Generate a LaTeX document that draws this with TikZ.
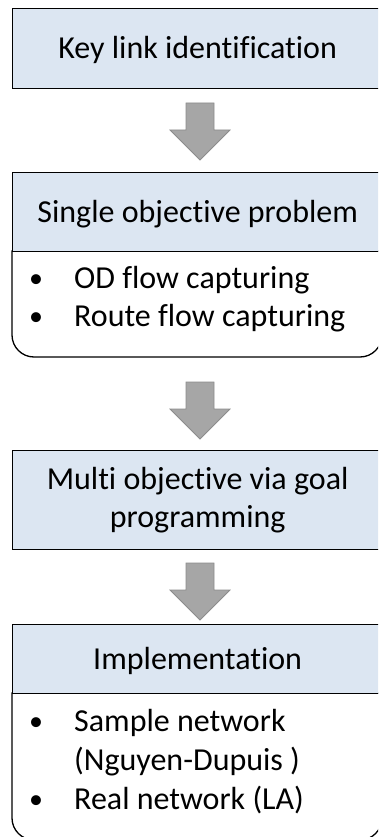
\documentclass[tikz,border=0pt]{standalone}
\usepackage{fontspec}
\setmainfont{Carlito}[Ligatures=NoCommon]

\definecolor{headfill}{HTML}{DCE6F2}
\definecolor{arrowfill}{HTML}{A6A6A6}
\definecolor{arrowline}{HTML}{8C8C8C}

% downward block arrow whose shaft top centre is at the given point
\newcommand{\blockarrowat}[2]{%
  \draw[blockarrow] ($(#1)+(-14,0)$) -- ($(#1)+(14,0)$) -- ($(#1)+(14,27)$)
    -- ($(#1)+(30,27)$) -- ($(#1)+(0,57)$) coordinate (#2) -- ($(#1)+(-30,27)$)
    -- ($(#1)+(-14,27)$) -- cycle;}

\usetikzlibrary{calc}

\begin{document}
\begin{tikzpicture}[x=1pt,y=-1pt,
  every node/.style={font=\fontsize{32}{38.5}\selectfont, inner sep=0pt},
  headbox/.style={draw=black, line width=1.3pt, fill=headfill,
    anchor=north west, minimum width=370pt},
  oneline/.style={text height=20.6pt, text depth=0pt},
  bodybox/.style={draw=black, line width=1.3pt, fill=white},
  blockarrow/.style={draw=arrowline, line width=0.8pt, fill=arrowfill, line join=miter},
  bullet/.style={anchor=base, font=\fontsize{28}{34}\selectfont},
  itemtext/.style={anchor=base west},
]
\path[use as bounding box] (0,0) rectangle (378,837);
\begin{scope}
\clip (0,0) rectangle (378,837);

% step 1
\node[headbox, oneline, minimum height=80pt] (key) at (12,8) {Key link identification};

% step 2: header with bullet body
\draw[bodybox] (12,251) -- (12,335) arc[start angle=180, end angle=90, radius=22]
  -- (360,357) arc[start angle=90, end angle=0, radius=22] -- (382,251) -- cycle;
\node[headbox, oneline, minimum height=79pt] (single) at (12,172) {Single objective problem};
\node[bullet] (b1) at (36,287) {\textbullet};
\node[itemtext] (od) at (74,288) {OD flow capturing};
\node[bullet] (b2) at (36,325) {\textbullet};
\node[itemtext] (route) at (74,326) {Route flow capturing};

% step 3
\node[headbox, minimum height=99pt, align=center] (multi) at (12,450)
  {Multi objective via goal\\programming};

% step 4: header with bullet body
\draw[bodybox] (12,693) -- (12,818) arc[start angle=180, end angle=90, radius=22]
  -- (360,840) arc[start angle=90, end angle=0, radius=22] -- (382,693) -- cycle;
\node[headbox, oneline, minimum height=69pt] (impl) at (12,624) {Implementation};
\node[bullet] (b3) at (36,730) {\textbullet};
\node[itemtext] (sample) at (74,731) {Sample network};
\node[itemtext] (nd) at (74,770) {(Nguyen-Dupuis )};
\node[bullet] (b4) at (36,808) {\textbullet};
\node[itemtext] (real) at (74,809) {Real network (LA)};

% block arrows between the steps
\coordinate (a1top) at (200,103);
\coordinate (a2top) at (200,382);
\coordinate (a3top) at (200,563);
\blockarrowat{a1top}{a1tip}
\blockarrowat{a2top}{a2tip}
\blockarrowat{a3top}{a3tip}
\end{scope}
\end{tikzpicture}
\end{document}
